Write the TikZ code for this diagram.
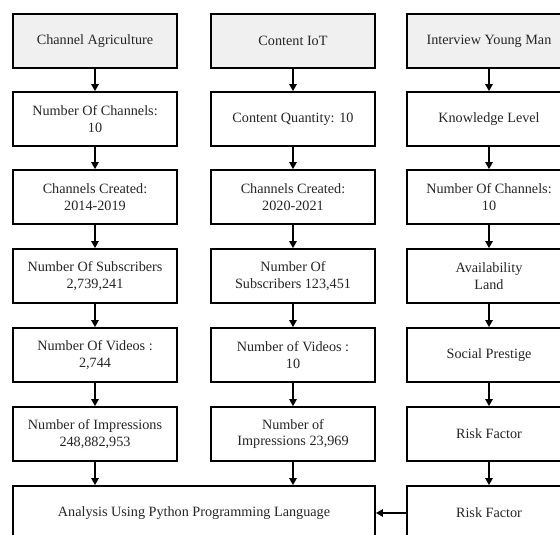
\documentclass[tikz,border=0pt]{standalone}
\usepackage{fontspec}
\setmainfont{Liberation Serif}
\usetikzlibrary{arrows.meta}
\begin{document}
\begin{tikzpicture}[x=1pt,y=-1pt,
  box/.style={draw=black, line width=1.8pt, minimum width=164pt, minimum height=54pt,
    inner sep=0pt, align=center, text=black!85, font=\fontsize{14.2pt}{16.7pt}\selectfont},
  head/.style={box, fill=black!6},
  arr/.style={line width=1.2pt, -{Triangle[length=7pt,width=7.5pt]}}
]
\clip (0,0) rectangle (560,535);
\fill[white] (0,0) rectangle (560,535);
% column 1
\node[head] (a1) at (95,41) {Channel Agriculture};
\node[box] (a2) at (95,119) {Number Of Channels:\\10};
\node[box] (a3) at (95,197) {Channels Created:\\2014-2019};
\node[box] (a4) at (95,276) {Number Of Subscribers\\2,739,241};
\node[box] (a5) at (95,355) {Number Of Videos :\\2,744};
\node[box] (a6) at (95,434) {Number of Impressions\\248,882,953};
% column 2
\node[head] (b1) at (293,41) {Content IoT};
\node[box] (b2) at (293,119) {Content Quantity: 10};
\node[box] (b3) at (293,197) {Channels Created:\\2020-2021};
\node[box] (b4) at (293,276) {Number Of\\Subscribers 123,451};
\node[box] (b5) at (293,355) {Number of Videos :\\10};
\node[box] (b6) at (293,434) {Number of\\Impressions 23,969};
% column 3
\node[head] (c1) at (489,41) {Interview Young Man};
\node[box] (c2) at (489,119) {Knowledge Level};
\node[box] (c3) at (489,197) {Number Of Channels:\\10};
\node[box] (c4) at (489,276) {Availability\\Land};
\node[box] (c5) at (489,355) {Social Prestige};
\node[box] (c6) at (489,434) {Risk Factor};
\node[box] (c7) at (489,513) {Risk Factor};
% analysis
\node[box, minimum width=362pt] (an) at (194,513) {Analysis Using Python Programming Language};
% arrows
\foreach \col in {a,b,c}{
  \foreach \i/\j in {1/2,2/3,3/4,4/5,5/6}{
    \draw[arr] (\col\i.south) -- (\col\j.north);
  }
}
\draw[arr] (c6.south) -- (c7.north);
\draw[arr] (a6.south) -- (a6.south |- an.north);
\draw[arr] (b6.south) -- (b6.south |- an.north);
\draw[arr] (c7.west) -- (an.east);
\end{tikzpicture}
\end{document}
